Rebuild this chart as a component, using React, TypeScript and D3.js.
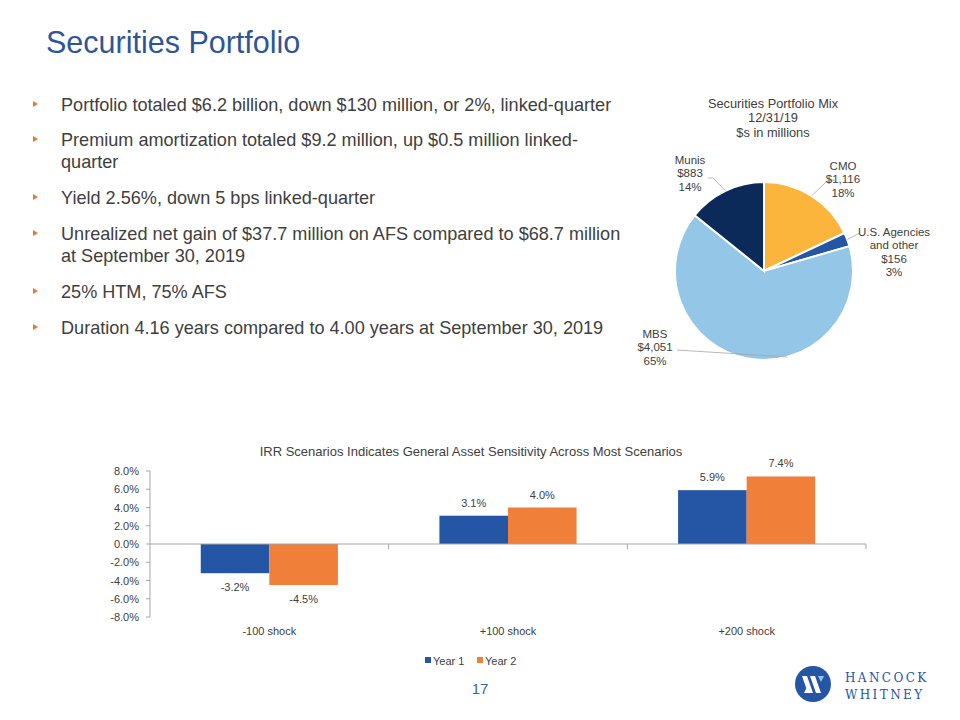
import React from "react";
import * as d3 from "d3";

// ---------- data ----------
const pieCategories = ["CMO", "U.S. Agencies and other", "MBS", "Munis"];
const pieValues = [1116, 156, 4051, 883];
const piePercents = ["18%", "3%", "65%", "14%"];

const barCategories = ["-100 shock", "+100 shock", "+200 shock"];
const barSeries = ["Year 1", "Year 2"];
const year1Values = [-3.2, 3.1, 5.9];
const year2Values = [-4.5, 4.0, 7.4];
const yTicks = [-8, -6, -4, -2, 0, 2, 4, 6, 8];

const bullets = [
  ["Portfolio totaled $6.2 billion, down $130 million, or 2%, linked-quarter"],
  ["Premium amortization totaled $9.2 million, up $0.5 million linked-", "quarter"],
  ["Yield 2.56%, down 5 bps linked-quarter"],
  ["Unrealized net gain of $37.7 million on AFS compared to $68.7 million", "at September 30, 2019"],
  ["25% HTM, 75% AFS"],
  ["Duration 4.16 years compared to 4.00 years at September 30, 2019"],
];

// ---------- styles / layout ----------
const FONT = "'Liberation Sans', Arial, sans-serif";
const BODY_FONT = "'Liberation Sans', Arial, sans-serif";
const TEXT = "#404040";
const pieColors = ["#FBB53D", "#2556A6", "#93C6E7", "#0B2A5A"];
const barColors = ["#2556A6", "#F07F3A"];

const bulletBaselines = [[111], [146, 168], [204], [240, 262], [298], [334]];

// label layout per slice: text anchor x, first line baseline y, elbow point, edge angle override (deg)
const pieLabelLayout = [
  { x: 843, y: 170, lines: ["CMO"], elbow: [827, 181], elbowEnd: [835, 180], angle: null },
  { x: 894, y: 236, lines: ["U.S. Agencies", "and other"], elbow: [860, 233], elbowEnd: [860, 233], angle: null },
  { x: 655, y: 338, lines: ["MBS"], elbow: [677, 350], elbowEnd: [677, 350], angle: 165 },
  { x: 690, y: 164, lines: ["Munis"], elbow: [713, 178], elbowEnd: [708, 178], angle: null },
];

export default function App() {
  // ---- pie ----
  const cx = 764, cy = 271, r = 89;
  const pie = d3.pie<number>().sort(null).value((d) => d);
  const arcs = pie(pieValues);
  const arcGen = d3.arc<d3.PieArcDatum<number>>().innerRadius(0).outerRadius(r);

  // ---- bar ----
  const y = d3.scaleLinear().domain([-8, 8]).range([617, 471]);
  const x0 = d3.scaleBand().domain(barCategories).range([150, 866]).padding(0);
  const x1 = d3.scaleBand().domain(barSeries).range([0, x0.bandwidth()]).paddingInner(0).paddingOuter(0.74);
  const seriesVals = [year1Values, year2Values];
  const fmt = (v: number) => v.toFixed(1) + "%";

  return (
    <svg width={960} height={720} style={{ display: "block", position: "absolute", left: 0, top: 0 }}>
      <rect width={960} height={720} fill="#fff" />
      {/* Title */}
      <text x={46} y={53} fontFamily={FONT} fontSize={30.5} fill="#2F5597">
        Securities Portfolio
      </text>

      {/* Bullets */}
      {bullets.map((b, i) => (
        <g key={i}>
          <path
            d={`M${33},${bulletBaselines[i][0] - 10} L${38},${bulletBaselines[i][0] - 7} L${33},${bulletBaselines[i][0] - 4} Z`}
            fill="#E07B39"
          />
          {b.map((line, j) => (
            <text key={j} x={61} y={bulletBaselines[i][j]} fontFamily={BODY_FONT} fontSize={18.1} fill={TEXT}>
              {line}
            </text>
          ))}
        </g>
      ))}

      {/* Pie title */}
      <g fontFamily={FONT} fontSize={12.8} fill={TEXT} textAnchor="middle">
        <text x={773} y={108}>Securities Portfolio Mix</text>
        <text x={773} y={122}>12/31/19</text>
        <text x={773} y={137}>$s in millions</text>
      </g>

      {/* Pie */}
      <g transform={`translate(${cx},${cy})`}>
        {arcs.map((a, i) => (
          <path key={i} d={arcGen(a) || ""} fill={pieColors[i]} stroke="#fff" strokeWidth={2} />
        ))}
      </g>

      {/* Pie labels */}
      {arcs.map((a, i) => {
        const L = pieLabelLayout[i];
        const ang = L.angle != null ? (L.angle * Math.PI) / 180 : (a.startAngle + a.endAngle) / 2;
        const ex = cx + r * Math.sin(ang);
        const ey = cy - r * Math.cos(ang);
        const lines = [...L.lines, "$" + d3.format(",")(pieValues[i]), piePercents[i]];
        return (
          <g key={i}>
            <polyline
              points={`${ex},${ey} ${L.elbow[0]},${L.elbow[1]} ${L.elbowEnd[0]},${L.elbowEnd[1]}`}
              fill="none"
              stroke="#A6A6A6"
              strokeWidth={0.8}
            />
            <text x={L.x} y={L.y} fontFamily={FONT} fontSize={11.5} fill={TEXT} textAnchor="middle">
              {lines.map((t, k) => (
                <tspan key={k} x={L.x} dy={k === 0 ? 0 : 13.3}>
                  {t}
                </tspan>
              ))}
            </text>
          </g>
        );
      })}

      {/* Bar chart title */}
      <text x={471} y={456} fontFamily={FONT} fontSize={13} fill={TEXT} textAnchor="middle">
        IRR Scenarios Indicates General Asset Sensitivity Across Most Scenarios
      </text>

      {/* Y axis */}
      <line x1={150} x2={150} y1={y(8)} y2={y(-8)} stroke="#A6A6A6" strokeWidth={1} />
      {yTicks.map((t) => (
        <g key={t}>
          <line x1={146} x2={150} y1={y(t)} y2={y(t)} stroke="#A6A6A6" />
          <text x={139} y={y(t) + 4} fontFamily={FONT} fontSize={11} fill={TEXT} textAnchor="end">
            {t.toFixed(1) + "%"}
          </text>
        </g>
      ))}

      {/* Bars */}
      {barCategories.map((c, ci) => (
        <g key={c} transform={`translate(${x0(c)},0)`}>
          {barSeries.map((s, si) => {
            const v = seriesVals[si][ci];
            const bx = x1(s)!;
            const top = Math.min(y(v), y(0));
            const h = Math.abs(y(v) - y(0));
            return (
              <g key={s}>
                <rect x={bx} y={top} width={x1.bandwidth()} height={h} fill={barColors[si]} />
                <text
                  x={bx + x1.bandwidth() / 2}
                  y={v >= 0 ? y(v) - 9 : y(v) + 18}
                  fontFamily={FONT}
                  fontSize={11}
                  fill={TEXT}
                  textAnchor="middle"
                >
                  {fmt(v)}
                </text>
              </g>
            );
          })}
        </g>
      ))}

      {/* zero line & category ticks */}
      <line x1={150} x2={866} y1={y(0)} y2={y(0)} stroke="#A6A6A6" strokeWidth={1} />
      {[...barCategories.map((c) => x0(c)!), 866].slice(1).map((tx, i) => (
        <line key={i} x1={tx} x2={tx} y1={y(0)} y2={y(0) + 5} stroke="#A6A6A6" />
      ))}
      {barCategories.map((c) => (
        <text key={c} x={x0(c)! + x0.bandwidth() / 2} y={635} fontFamily={FONT} fontSize={11} fill={TEXT} textAnchor="middle">
          {c}
        </text>
      ))}

      {/* Legend */}
      {barSeries.map((s, i) => (
        <g key={s} transform={`translate(${425 + i * 52},0)`}>
          <rect x={0} y={657} width={6} height={6} fill={barColors[i]} />
          <text x={8} y={665} fontFamily={FONT} fontSize={11} fill={TEXT}>
            {s}
          </text>
        </g>
      ))}

      {/* Page number */}
      <text x={480} y={694} fontFamily={FONT} fontSize={15} fill="#3F63A8" textAnchor="middle">
        17
      </text>

      {/* Logo */}
      <g>
        <circle cx={813} cy={684} r={18} fill="#2556A6" />
        <path d="M802,676 L807,676 L813,693 L808,693 Z" fill="#fff" />
        <path d="M810,676 L815,676 L821,693 L816,693 Z" fill="#fff" />
        <path d="M804,693 L808,685 L810,690 L808,693 Z" fill="#fff" />
        <path d="M818,676 L824,676 L821,682 Z" fill="#93C6E7" />
        <text x={845} y={682} fontFamily="'DejaVu Serif', 'Liberation Serif', serif" fontSize={12} letterSpacing={2.4} fill="#2556A6">
          HANCOCK
        </text>
        <text x={845} y={699} fontFamily="'DejaVu Serif', 'Liberation Serif', serif" fontSize={12} letterSpacing={2.4} fill="#2556A6">
          WHITNEY
        </text>
      </g>
    </svg>
  );
}
